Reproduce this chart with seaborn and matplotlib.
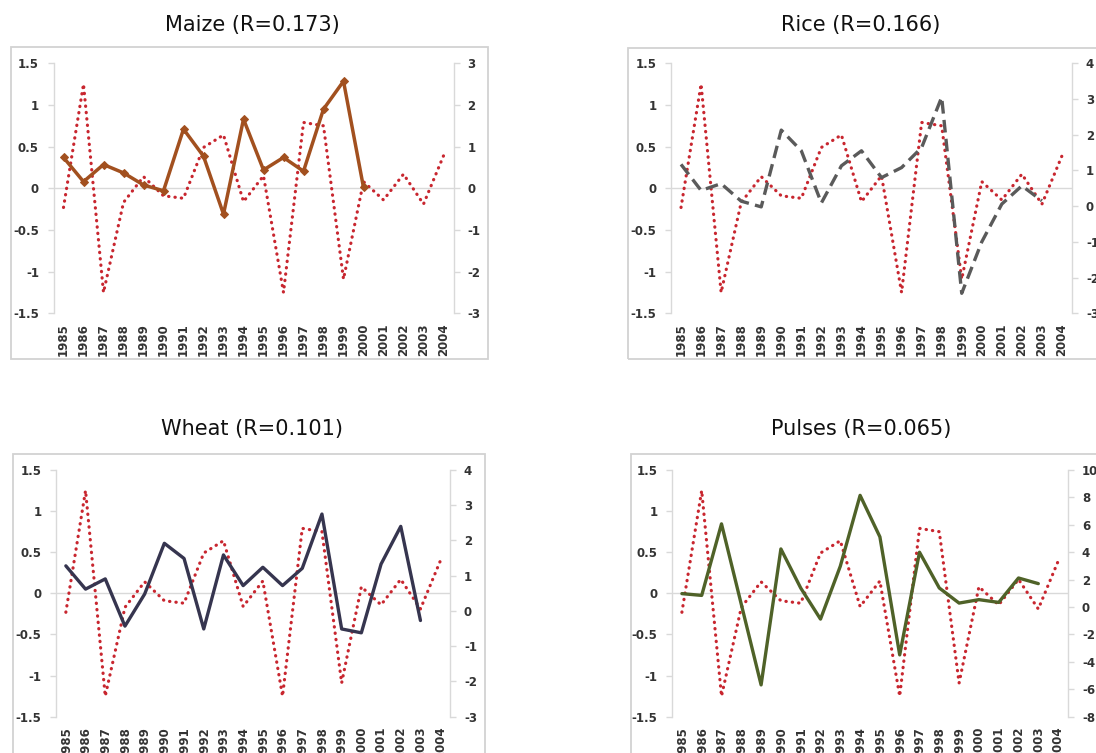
import matplotlib
matplotlib.use("Agg")
import matplotlib.pyplot as plt
import pandas as pd
import seaborn as sns
from matplotlib.patches import Rectangle

# ---- data -----------------------------------------------------------------
years = list(range(1985, 2005))
year_labels = [str(y) for y in years]

# rainfall anomaly (left axis, shared by all panels)
rainfall = [-0.23, 1.25, -1.25, -0.17, 0.14, -0.09, -0.12, 0.49, 0.64, -0.16,
            0.15, -1.25, 0.79, 0.75, -1.09, 0.08, -0.14, 0.17, -0.19, 0.39]

# crop yield anomalies (right axis)
maize = [0.74, 0.16, 0.57, 0.37, 0.08, -0.06, 1.42, 0.77, -0.62, 1.66,
         0.44, 0.74, 0.41, 1.90, 2.57, 0.02]
rice = [1.17, 0.44, 0.63, 0.14, -0.02, 2.13, 1.55, 0.09, 1.13, 1.55,
        0.80, 1.08, 1.64, 3.05, -2.44, -1.00, 0.06, 0.57, 0.15]
wheat = [1.28, 0.62, 0.91, -0.43, 0.48, 1.92, 1.49, -0.51, 1.59, 0.72,
         1.24, 0.72, 1.21, 2.75, -0.51, -0.62, 1.33, 2.40, -0.27]
pulses = [0.98, 0.85, 6.07, 0.20, -5.68, 4.24, 1.39, -0.88, 2.98, 8.15,
          5.12, -3.49, 4.00, 1.39, 0.29, 0.54, 0.34, 2.12, 1.71]

titles = ["Maize (R=0.173)", "Rice (R=0.166)", "Wheat (R=0.101)", "Pulses (R=0.065)"]

left_ticks = [1.5, 1, 0.5, 0, -0.5, -1, -1.5]
left_tick_labels = ["1.5", "1", "0.5", "0", "-0.5", "-1", "-1.5"]

# ---- style ----------------------------------------------------------------
sns.set_theme(style="white")
plt.rcParams["font.family"] = ["DejaVu Sans"]
plt.rcParams["axes.unicode_minus"] = False

W, H = 1096, 753
fig = plt.figure(figsize=(W / 100, H / 100), dpi=100)
fig.patch.set_facecolor("white")

RED = "#C8262F"
GRID = "#D9D9D9"
LABEL = "#333333"
TICK_SIZE = 8.5


def frac_rect(l, t, r, b):
    return [l / W, 1 - b / H, (r - l) / W, (b - t) / H]


def panel(axes_px, frame_px, title_xy, title, values, color, line_kw,
          r_lim, r_ticks):
    # chart frame
    l, t, r, b = frame_px
    fig.add_artist(Rectangle((l / W, 1 - b / H), (r - l) / W, (b - t) / H,
                             transform=fig.transFigure, fill=False,
                             ec="#D2D2D2", lw=1.3, clip_on=False))
    fig.text(title_xy[0] / W, 1 - title_xy[1] / H, title, ha="center",
             va="center", fontsize=15, color="#111111")

    ax = fig.add_axes(frac_rect(*axes_px))
    ax.set_facecolor("none")
    ax.axhline(0, color=GRID, lw=1.0, zorder=0)

    rain_df = pd.DataFrame({"year": years, "value": rainfall})
    sns.lineplot(data=rain_df, x="year", y="value", ax=ax, color=RED,
                 lw=2.3, linestyle=(0, (0.1, 1.9)), dash_capstyle="round")

    ax.set_xlim(1984.5, 2004.5)
    ax.set_ylim(-1.5, 1.5)
    ax.set_yticks(left_ticks)
    ax.set_yticklabels(left_tick_labels)
    ax.set_xticks(years)
    ax.set_xticklabels(year_labels, rotation=90)
    ax.set_xlabel("")
    ax.set_ylabel("")
    for s in ("top", "right", "bottom"):
        ax.spines[s].set_visible(False)
    ax.spines["left"].set_color(GRID)
    ax.spines["left"].set_linewidth(1.0)
    ax.tick_params(axis="y", length=4, width=1, color=GRID, labelcolor=LABEL,
                   labelsize=TICK_SIZE, pad=6.5, left=True)
    ax.tick_params(axis="x", length=0, pad=7, labelcolor=LABEL,
                   labelsize=TICK_SIZE, bottom=True)

    ax2 = ax.twinx()
    crop_df = pd.DataFrame({"year": years[:len(values)], "value": values})
    sns.lineplot(data=crop_df, x="year", y="value", ax=ax2, color=color,
                 **line_kw)
    ax2.set_ylim(*r_lim)
    ax2.set_yticks(r_ticks)
    ax2.set_yticklabels([str(v) for v in r_ticks])
    ax2.set_ylabel("")
    ax2.set_xlabel("")
    for s in ("top", "left", "bottom"):
        ax2.spines[s].set_visible(False)
    ax2.spines["right"].set_color(GRID)
    ax2.spines["right"].set_linewidth(1.0)
    ax2.tick_params(axis="y", length=4, width=1, color=GRID, labelcolor=LABEL,
                    labelsize=TICK_SIZE, pad=6, right=True)
    ax2.set_xlim(1984.5, 2004.5)

    for lab in ax.get_xticklabels() + ax.get_yticklabels() + ax2.get_yticklabels():
        lab.set_fontweight("bold")


panel((53.5, 63.3, 453.5, 313.3), (10.5, 47, 488, 359), (252, 25),
      titles[0], maize, "#A2501F",
      dict(lw=2.5, marker="D", markersize=4, markeredgecolor="#A2501F"),
      (-3, 3), list(range(-3, 4)))

panel((671, 63.3, 1072, 313.3), (628, 48, 1120, 359), (861, 25),
      titles[1], rice, "#5A5A5A",
      dict(lw=2.4, linestyle=(0, (3.8, 1.9))),
      (-3, 4), list(range(-3, 5)))

panel((56, 470, 450, 716.7), (13, 454, 485, 780), (252, 428.5),
      titles[2], wheat, "#36354F",
      dict(lw=2.4),
      (-3, 4), list(range(-3, 5)))

panel((672, 470, 1068, 716.7), (631, 454, 1120, 780), (861, 428.5),
      titles[3], pulses, "#4F6228",
      dict(lw=2.4),
      (-8, 10), list(range(-8, 11, 2)))

fig.savefig("out.png", dpi=100, facecolor="white")
